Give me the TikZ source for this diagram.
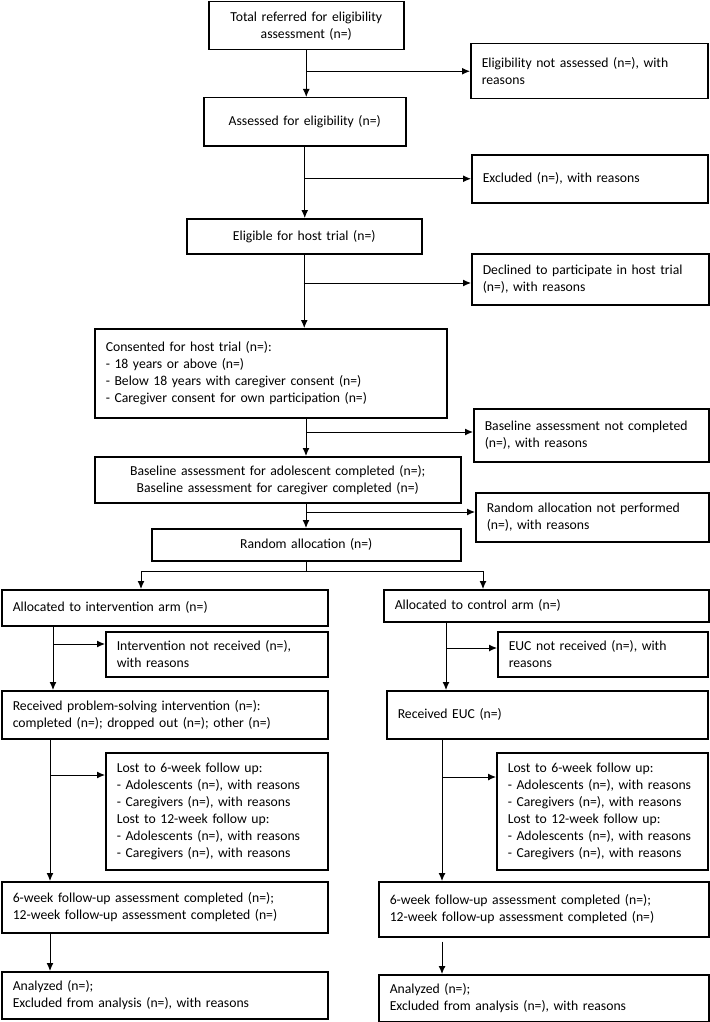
\documentclass[tikz,border=0pt]{standalone}
\usepackage{fontspec}
\setmainfont{Carlito}
\usetikzlibrary{arrows.meta}

\tikzset{
  box/.style={draw,line width=1.5pt,anchor=north west,inner xsep=11pt,inner ysep=0pt,
    font=\fontsize{13.7}{17}\selectfont},
  cbox/.style={box,align=center},
  lbox/.style={box,align=left},
  link/.style={line width=1pt},
  arr/.style={link,-{Latex[length=8pt,width=7pt]}}
}

\begin{document}
\begin{tikzpicture}[x=1pt,y=-1pt]
  \useasboundingbox (0,0) rectangle (709,1022);

  % enrolment
  \node[cbox,minimum width=195pt,minimum height=48pt,text width=173pt] (total) at (208,1)
    {Total referred for eligibility\\assessment (n=)};
  \node[lbox,minimum width=237pt,minimum height=55pt,text width=215pt] (notassessed) at (470,43)
    {Eligibility not assessed (n=), with\\reasons};
  \node[cbox,minimum width=202pt,minimum height=48pt,text width=180pt] (assessed) at (203,97)
    {Assessed for eligibility (n=)};
  \node[lbox,minimum width=236pt,minimum height=48pt,text width=214pt] (excluded) at (471,154)
    {Excluded (n=), with reasons};
  \node[cbox,minimum width=235pt,minimum height=35pt,text width=213pt] (eligible) at (186,218)
    {Eligible for host trial (n=)};
  \node[lbox,minimum width=237pt,minimum height=51pt,text width=215pt] (declined) at (471,253)
    {Declined to participate in host trial\\(n=), with reasons};
  \node[lbox,minimum width=352pt,minimum height=89pt,text width=330pt] (consented) at (94,328)
    {Consented for host trial (n=):\\- 18 years or above (n=)\\- Below 18 years with caregiver consent (n=)\\- Caregiver consent for own participation (n=)};
  \node[lbox,minimum width=235pt,minimum height=53pt,text width=213pt] (baselinenot) at (473,408)
    {Baseline assessment not completed\\(n=), with reasons};
  \node[cbox,minimum width=366pt,minimum height=46pt,text width=344pt] (baseline) at (94,456)
    {Baseline assessment for adolescent completed (n=);\\Baseline assessment for caregiver completed (n=)};
  \node[lbox,minimum width=233pt,minimum height=49pt,text width=211pt] (randomnot) at (475,492)
    {Random allocation not performed\\(n=), with reasons};
  \node[cbox,minimum width=309pt,minimum height=32pt,text width=287pt] (random) at (151,528)
    {Random allocation (n=)};

  % intervention arm
  \node[lbox,minimum width=326pt,minimum height=36pt,text width=304pt] (intarm) at (1,589)
    {Allocated to intervention arm (n=)};
  \node[lbox,minimum width=222pt,minimum height=45pt,text width=200pt] (intnot) at (105,631)
    {Intervention not received (n=),\\with reasons};
  \node[lbox,minimum width=326pt,minimum height=48pt,text width=304pt] (intrec) at (1,690)
    {Received problem-solving intervention (n=):\\completed (n=); dropped out (n=); other (n=)};
  \node[lbox,minimum width=222pt,minimum height=117pt,text width=200pt] (intlost) at (105,752)
    {Lost to 6-week follow up:\\- Adolescents (n=), with reasons\\- Caregivers (n=), with reasons\\Lost to 12-week follow up:\\- Adolescents (n=), with reasons\\- Caregivers (n=), with reasons};
  \node[lbox,minimum width=326pt,minimum height=51pt,text width=304pt] (intfu) at (1,881)
    {6-week follow-up assessment completed (n=);\\12-week follow-up assessment completed (n=)};
  \node[lbox,minimum width=326pt,minimum height=47pt,text width=304pt] (intana) at (1,971)
    {Analyzed (n=);\\Excluded from analysis (n=), with reasons};

  % control arm
  \node[lbox,minimum width=325pt,minimum height=32pt,text width=303pt] (ctrlarm) at (383,589)
    {Allocated to control arm (n=)};
  \node[lbox,minimum width=210pt,minimum height=45pt,text width=188pt] (eucnot) at (497,631)
    {EUC not received (n=), with\\reasons};
  \node[lbox,minimum width=321pt,minimum height=48pt,text width=299pt] (eucrec) at (386,690)
    {Received EUC (n=)};
  \node[lbox,minimum width=211pt,minimum height=117pt,text width=189pt] (euclost) at (496,752)
    {Lost to 6-week follow up:\\- Adolescents (n=), with reasons\\- Caregivers (n=), with reasons\\Lost to 12-week follow up:\\- Adolescents (n=), with reasons\\- Caregivers (n=), with reasons};
  \node[lbox,minimum width=330pt,minimum height=55pt,text width=308pt] (eucfu) at (378,881)
    {6-week follow-up assessment completed (n=);\\12-week follow-up assessment completed (n=)};
  \node[lbox,minimum width=330pt,minimum height=47pt,text width=308pt] (eucana) at (378,974)
    {Analyzed (n=);\\Excluded from analysis (n=), with reasons};

  % branch points
  \coordinate (d3) at (303.5,283);
  \coordinate (d4) at (306,432);
  \coordinate (d5) at (306,512);
  \coordinate (sl) at (141,571);
  \coordinate (sr) at (483,571);
  \coordinate (l1) at (53,644);
  \coordinate (r1) at (446,648);
  \coordinate (l2) at (50,775);
  \coordinate (r2) at (442,777);

  % main flow
  \draw[arr] (total.south) -- (total.south |- assessed.north);
  \draw[arr] (total.south |- notassessed.west) -- (notassessed.west);
  \draw[arr] (assessed.south) -- (assessed.south |- eligible.north);
  \draw[arr] (assessed.south |- excluded.west) -- (excluded.west);
  \draw[arr] (eligible.south) -- (eligible.south |- consented.north);
  \draw[arr] (d3) -- (d3 -| declined.west);
  \draw[arr] (d4 |- consented.south) -- (d4 |- baseline.north);
  \draw[arr] (d4) -- (d4 -| baselinenot.west);
  \draw[arr] (d5 |- baseline.south) -- (d5 |- random.north);
  \draw[arr] (d5) -- (d5 -| randomnot.west);

  % allocation
  \draw[link] (random.south) -- (random.south |- sl);
  \draw[link] (sl) -- (sr);
  \draw[arr] (sl) -- (sl |- intarm.north);
  \draw[arr] (sr) -- (sr |- ctrlarm.north);

  % intervention arm
  \draw[arr] (l1 |- intarm.south) -- (l1 |- intrec.north);
  \draw[arr] (l1) -- (l1 -| intnot.west);
  \draw[arr] (l2 |- intrec.south) -- (l2 |- intfu.north);
  \draw[arr] (l2) -- (l2 -| intlost.west);
  \draw[arr] (l2 |- intfu.south) -- (l2 |- intana.north);

  % control arm
  \draw[arr] (r1 |- ctrlarm.south) -- (r1 |- eucrec.north);
  \draw[arr] (r1) -- (r1 -| eucnot.west);
  \draw[arr] (r2 |- eucrec.south) -- (r2 |- eucfu.north);
  \draw[arr] (r2) -- (r2 -| euclost.west);
  \draw[arr] ([yshift=-4pt]r2 |- eucfu.south) -- (r2 |- eucana.north);
\end{tikzpicture}
\end{document}
